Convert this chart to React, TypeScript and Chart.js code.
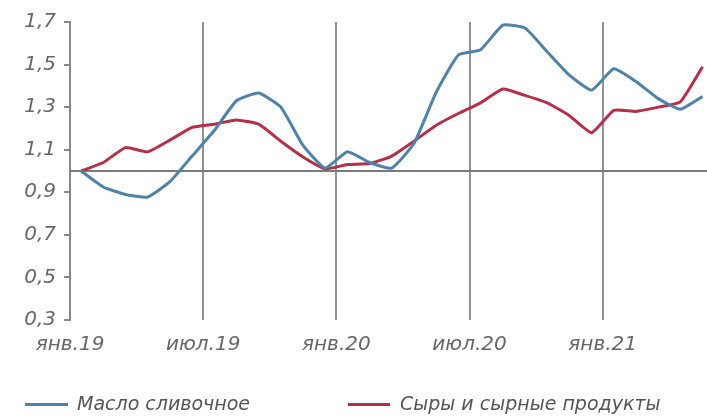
import React, { useEffect, useRef } from "react";
import { Chart, registerables } from "chart.js";

Chart.register(...registerables);

const months = [
  "янв.19", "фев.19", "мар.19", "апр.19", "май.19", "июн.19",
  "июл.19", "авг.19", "сен.19", "окт.19", "ноя.19", "дек.19",
  "янв.20", "фев.20", "мар.20", "апр.20", "май.20", "июн.20",
  "июл.20", "авг.20", "сен.20", "окт.20", "ноя.20", "дек.20",
  "янв.21", "фев.21", "мар.21", "апр.21", "май.21",
];

const butter = [
  1.0, 0.925, 0.89, 0.878, 0.95, 1.07, 1.19, 1.33, 1.366, 1.3, 1.12, 1.014,
  1.09, 1.04, 1.014, 1.13, 1.37, 1.545, 1.57, 1.685, 1.672, 1.56, 1.45, 1.38,
  1.48, 1.42, 1.34, 1.29, 1.35,
];

const cheese = [
  1.0, 1.04, 1.11, 1.09, 1.145, 1.205, 1.22, 1.24, 1.22, 1.14, 1.066, 1.01,
  1.03, 1.035, 1.07, 1.14, 1.215, 1.27, 1.32, 1.385, 1.355, 1.32, 1.26, 1.18,
  1.285, 1.28, 1.3, 1.325, 1.49,
];

const xTickLabels = ["янв.19", "июл.19", "янв.20", "июл.20", "янв.21"];
const xTickMonths = [0, 6, 12, 18, 24];
const yTicks = [0.3, 0.5, 0.7, 0.9, 1.1, 1.3, 1.5, 1.7];
const seriesNames = ["Масло сливочное", "Сыры и сырные продукты"];
const baseline = 1.0;

const BLUE = "#4f82a6";
const RED = "#b3304a";
const FONT = "'DejaVu Sans', sans-serif";

export default function App() {
  const ref = useRef<HTMLCanvasElement | null>(null);

  useEffect(() => {
    if (!ref.current) return;
    const toPts = (arr: number[]) => arr.map((v, i) => ({ x: i + 0.5, y: v }));

    const baselinePlugin = {
      id: "baseline",
      beforeDatasetsDraw(chart: any) {
        const { ctx, chartArea, scales } = chart;
        const y = scales.y.getPixelForValue(baseline);
        ctx.save();
        ctx.strokeStyle = "#7a7a7a";
        ctx.lineWidth = 2;
        ctx.beginPath();
        ctx.moveTo(chartArea.left, y);
        ctx.lineTo(chartArea.right, y);
        ctx.stroke();
        ctx.restore();
      },
    };

    const chart = new Chart(ref.current, {
      type: "line",
      data: {
        datasets: [
          {
            label: seriesNames[0],
            data: toPts(butter),
            borderColor: BLUE,
            backgroundColor: BLUE,
            borderWidth: 3,
            pointRadius: 0,
            tension: 0.15,
          },
          {
            label: seriesNames[1],
            data: toPts(cheese),
            borderColor: RED,
            backgroundColor: RED,
            borderWidth: 3,
            pointRadius: 0,
            tension: 0.15,
          },
        ],
      },
      plugins: [baselinePlugin],
      options: {
        animation: false,
        responsive: false,
        maintainAspectRatio: false,
        layout: { padding: { top: 22, left: 0, right: 0, bottom: 0 } },
        plugins: {
          legend: { display: false },
          tooltip: { enabled: false },
        },
        scales: {
          x: {
            type: "linear",
            min: 0,
            max: 28.7,
            afterBuildTicks: (axis: any) => {
              axis.ticks = xTickMonths.map((v) => ({ value: v }));
            },
            afterFit: (axis: any) => {
              axis.height = 96;
            },
            ticks: {
              autoSkip: false,
              maxRotation: 0,
              padding: 13,
              color: "#666",
              font: { family: FONT, size: 20, style: "italic" },
              callback: (v: any) => {
                const idx = xTickMonths.indexOf(Number(v));
                return idx >= 0 ? xTickLabels[idx] : "";
              },
            },
            grid: {
              drawTicks: false,
              lineWidth: 2,
              color: (c: any) =>
                c.tick && c.tick.value === 0 ? "rgba(0,0,0,0)" : "#929292",
            },
            border: { display: false },
          },
          y: {
            min: 0.3,
            max: 1.7,
            afterBuildTicks: (axis: any) => {
              axis.ticks = yTicks.map((v) => ({ value: v }));
            },
            afterFit: (axis: any) => {
              axis.width = 70;
            },
            ticks: {
              padding: 8,
              color: "#666",
              font: { family: FONT, size: 20, style: "italic" },
              callback: (v: any) => Number(v).toFixed(1).replace(".", ","),
            },
            grid: {
              drawOnChartArea: false,
              drawTicks: true,
              tickLength: 6,
              tickColor: "#888",
              lineWidth: 2,
            },
            border: { display: true, color: "#888", width: 2 },
          },
        },
      },
    } as any);

    return () => chart.destroy();
  }, []);

  const legendText: React.CSSProperties = {
    position: "absolute",
    top: 391,
    height: 24,
    lineHeight: "24px",
    fontFamily: FONT,
    fontStyle: "italic",
    fontSize: 19,
    color: "#555",
    whiteSpace: "nowrap",
  };
  const legendLine: React.CSSProperties = {
    position: "absolute",
    top: 403,
    height: 3,
  };

  return (
    <div
      style={{
        position: "fixed",
        left: 0,
        top: 0,
        width: 707,
        height: 416,
        background: "#fff",
        overflow: "hidden",
      }}
    >
      <canvas
        ref={ref}
        width={707}
        height={416}
        style={{ position: "absolute", left: 0, top: 0, width: 707, height: 416 }}
      />
      <div style={{ ...legendLine, left: 25, width: 43, background: BLUE }} />
      <div style={{ ...legendText, left: 77 }}>{seriesNames[0]}</div>
      <div style={{ ...legendLine, left: 348, width: 42, background: RED }} />
      <div style={{ ...legendText, left: 400 }}>{seriesNames[1]}</div>
    </div>
  );
}
